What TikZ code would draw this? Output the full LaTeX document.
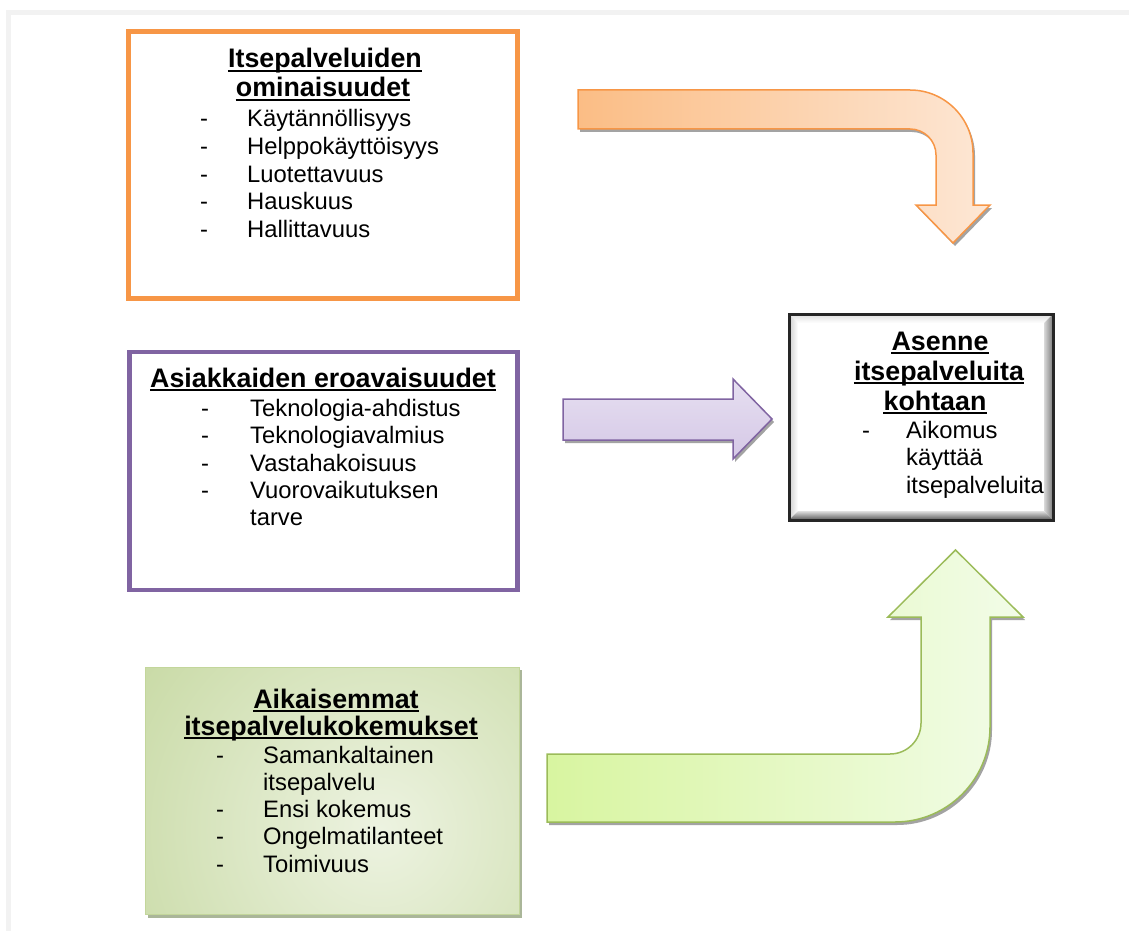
\documentclass[tikz,border=0pt]{standalone}
\usepackage{fontspec}
\setmainfont{Liberation Sans}
\definecolor{pagegrey}{HTML}{F2F2F2}
\definecolor{oline}{HTML}{F79646}
\definecolor{oleft}{HTML}{FBBD85}
\definecolor{oright}{HTML}{FDE7D5}
\definecolor{pline}{HTML}{8064A2}
\definecolor{ptop}{HTML}{E6DFF1}
\definecolor{pbot}{HTML}{D5C8E6}
\definecolor{gline}{HTML}{9BBB59}
\definecolor{gleft}{HTML}{D8F5A0}
\definecolor{gright}{HTML}{F2FCE8}
\definecolor{gboxline}{HTML}{C3D69B}
\definecolor{gboxin}{HTML}{EDF3E1}
\definecolor{gboxout}{HTML}{C4D79E}
\definecolor{gboxshadow}{HTML}{AAB699}
\definecolor{shadowgrey}{HTML}{A3A3A3}
\begin{document}
\begin{tikzpicture}[x=1pt,y=-1pt,
  body/.style={font=\fontsize{23.8}{28}\selectfont, inner sep=0pt, anchor=base west},
  dashtext/.style={font=\fontsize{23.8}{28}\selectfont, inner sep=0pt, anchor=base west},
  title/.style={font=\fontsize{26.8}{31}\selectfont\bfseries, inner sep=0pt, anchor=base},
  uline/.style={line width=2pt, black},
  boxnode/.style={rectangle, inner sep=0pt, outer sep=0pt, fill=white},
  arrowshadow/.style={fill=shadowgrey},
  oarrow/.style={insert path={(578,90) -- (910,90) arc[start angle=90, end angle=0, radius=63pt]
     -- (973,205) -- (990,205) -- (953,243) -- (916,205) -- (936,205) -- (936,155)
     arc[start angle=0, end angle=90, radius=26pt] -- (578,129) -- cycle}},
  parrow/.style={insert path={(563,399) -- (733,399) -- (733,379) -- (772,419) -- (733,459)
     -- (733,440) -- (563,440) -- cycle}},
  garrow/.style={insert path={(547,754) -- (890,754) arc[start angle=-90, end angle=0, radius=31pt]
     -- (921,617) -- (888,617) -- (955.5,550) -- (1023,617) -- (990,617) -- (990,727)
     arc[start angle=0, end angle=-90, radius=95pt] -- (547,822) -- cycle}}
]
\useasboundingbox (0,0) rectangle (1129,931);
% page edge
\fill[pagegrey] (6,10) rectangle (1129,15);
\fill[pagegrey] (6,10) rectangle (11,931);

% ---------- orange box ----------
\node[boxnode, draw=oline, line width=5pt, minimum width=389pt, minimum height=267pt] (obox) at (323,165) {};
\node[title] (ot1) at (325,68) {Itsepalveluiden\ };
\node[title] (ot2) at (323,97) {ominaisuudet};
\draw[uline] ([yshift=-3pt]ot1.base west) -- ([yshift=-3pt]ot1.base east);
\draw[uline] ([yshift=-3pt]ot2.base west) -- ([yshift=-3pt]ot2.base east);
\node[dashtext] (od1) at (200,127) {-};
\node[dashtext] (od2) at (200,154) {-};
\node[dashtext] (od3) at (200,182) {-};
\node[dashtext] (od4) at (200,209) {-};
\node[dashtext] (od5) at (200,237) {-};
\node[body] (oi1) at (247,127) {Käytännöllisyys};
\node[body] (oi2) at (247,154) {Helppokäyttöisyys};
\node[body] (oi3) at (247,182) {Luotettavuus};
\node[body] (oi4) at (247,209) {Hauskuus};
\node[body] (oi5) at (247,237) {Hallittavuus};

% ---------- purple box ----------
\node[boxnode, draw=pline, line width=4.5pt, minimum width=388pt, minimum height=238pt] (pbox) at (323.5,471) {};
\node[title] (pt1) at (323,387) {Asiakkaiden eroavaisuudet};
\draw[uline] ([yshift=-3pt]pt1.base west) -- ([yshift=-3pt]pt1.base east);
\node[dashtext] (pd1) at (201,416) {-};
\node[dashtext] (pd2) at (201,443) {-};
\node[dashtext] (pd3) at (201,471) {-};
\node[dashtext] (pd4) at (201,498) {-};
\node[body] (pi1) at (250,416) {Teknologia-ahdistus};
\node[body] (pi2) at (250,443) {Teknologiavalmius};
\node[body] (pi3) at (250,471) {Vastahakoisuus};
\node[body] (pi4) at (250,498) {Vuorovaikutuksen};
\node[body] (pi5) at (250,525) {tarve};

% ---------- green box ----------
\fill[gboxshadow] (148,670) rectangle (522,918);
\begin{scope}
  \clip (145,667) rectangle (519,914);
  \shade[inner color=gboxin, outer color=gboxout] (380,830) circle (330pt);
\end{scope}
\node[rectangle, draw=gboxline, line width=1pt, inner sep=0pt, minimum width=374pt, minimum height=247pt] (gbox) at (332,790.5) {};
\node[title] (gt1) at (336,708) {Aikaisemmat\ };
\node[title] (gt2) at (331,735) {itsepalvelukokemukset};
\draw[uline] ([yshift=-3pt]gt1.base west) -- ([yshift=-3pt]gt1.base east);
\draw[uline] ([yshift=-3pt]gt2.base west) -- ([yshift=-3pt]gt2.base east);
\node[dashtext] (gd1) at (216,763) {-};
\node[dashtext] (gd2) at (216,817) {-};
\node[dashtext] (gd3) at (216,844) {-};
\node[dashtext] (gd4) at (216,872) {-};
\node[body] (gi1) at (263,763) {Samankaltainen};
\node[body] (gi2) at (263,790) {itsepalvelu};
\node[body] (gi3) at (263,817) {Ensi kokemus};
\node[body] (gi4) at (263,844) {Ongelmatilanteet};
\node[body] (gi5) at (263,872) {Toimivuus};

% ---------- black box (bevel) ----------
\fill[white] (789.5,314.5) rectangle (1052.5,519.5);
\shade[top color=black!12, bottom color=white] (789.5,314.5) -- (1052.5,314.5) -- (1044,323) -- (798,323) -- cycle;
\shade[left color=black!18, right color=white] (789.5,314.5) -- (798,323) -- (798,511) -- (789.5,519.5) -- cycle;
\shade[left color=black!15, right color=black!50] (1052.5,314.5) -- (1052.5,519.5) -- (1044,511) -- (1044,323) -- cycle;
\shade[top color=black!12, bottom color=black!62] (789.5,519.5) -- (1052.5,519.5) -- (1044,511) -- (798,511) -- cycle;
\node[rectangle, draw=black!85, line width=3pt, inner sep=0pt, minimum width=264pt, minimum height=206pt] (abox) at (921,417) {};
\node[title] (at1) at (940,350) {Asenne\ };
\node[title] (at2) at (939,380) {itsepalveluita\ };
\node[title] (at3) at (935,410) {kohtaan};
\draw[uline] ([yshift=-3pt]at1.base west) -- ([yshift=-3pt]at1.base east);
\draw[uline] ([yshift=-3pt]at2.base west) -- ([yshift=-3pt]at2.base east);
\draw[uline] ([yshift=-3pt]at3.base west) -- ([yshift=-3pt]at3.base east);
\node[dashtext] (ad1) at (862,438) {-};
\node[body] (ai1) at (906,438) {Aikomus};
\node[body] (ai2) at (906,465) {käyttää};
\node[body] (ai3) at (906,493) {itsepalveluita};

% ---------- arrows ----------
\fill[arrowshadow, shift={(2,3)}, oarrow];
\path[draw=oline, line width=1.5pt, left color=oleft, right color=oright, oarrow];
\fill[arrowshadow, shift={(2,3)}, parrow];
\path[draw=pline, line width=1.5pt, top color=ptop, bottom color=pbot, parrow];
\fill[arrowshadow, shift={(2,3)}, garrow];
\path[draw=gline, line width=1.5pt, left color=gleft, right color=gright, garrow];
\end{tikzpicture}
\end{document}
